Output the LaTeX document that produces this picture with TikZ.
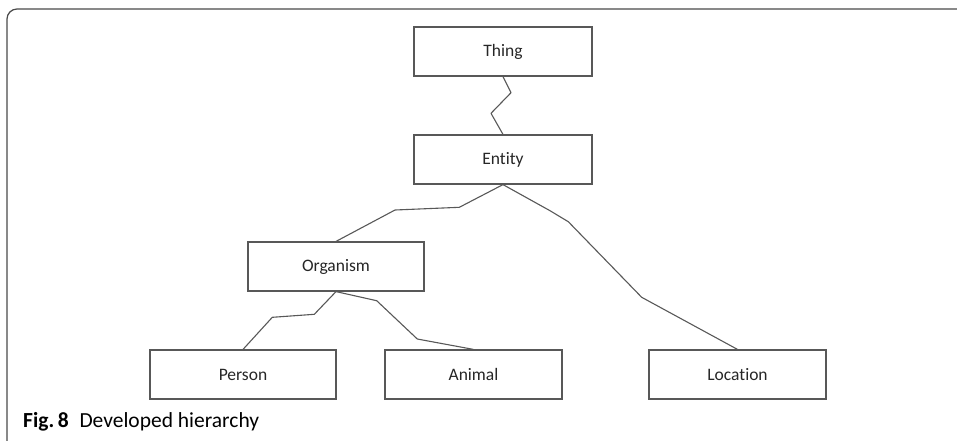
\documentclass[tikz,border=0pt]{standalone}
\usepackage{fontspec}
\setmainfont{Carlito}[Ligatures=NoCommon]
\definecolor{linegray}{HTML}{585858}
\definecolor{framegray}{HTML}{4A4A4A}
\begin{document}
\begin{tikzpicture}[x=1pt,y=-1pt,
  box/.style={draw=linegray,line width=1.2pt,minimum height=49pt,inner sep=0pt,
    font=\fontsize{17.5}{20}\selectfont,text=black!85},
  link/.style={draw=linegray,line width=1.1pt,line join=round}]
\useasboundingbox (0,0) rectangle (957,440);
% frame
\draw[framegray,line width=1.2pt,rounded corners=10pt] (7,441) -- (7,9) -- (958,9);
% nodes
\node[box,minimum width=178pt] (thing) at (503,51.5) {Thing};
\node[box,minimum width=178pt] (entity) at (503,159.5) {Entity};
\node[box,minimum width=176pt] (organism) at (336,266.5) {Organism};
\node[box,minimum width=186pt] (person) at (243,374.5) {Person};
\node[box,minimum width=177pt] (animal) at (473.5,374.5) {Animal};
\node[box,minimum width=177pt] (location) at (737.5,374.5) {Location};
% connectors
\draw[link] (thing.south) -- (511,92.7) -- (491,113.3) -- (entity.north);
\draw[link] (entity.south) -- (459.3,207.3) -- (395,210) -- (organism.north);
\draw[link] (entity.south) -- (550,210.7) -- (568.3,221.7) -- (641.7,297.3) -- (location.north);
\draw[link] (organism.south) -- (314.3,314.3) -- (272.3,317.3) -- (person.north);
\draw[link] (organism.south) -- (376.7,300.7) -- (417.3,339) -- (animal.north);
% caption
\node[anchor=west,inner sep=0pt,font=\fontsize{21.5}{24}\selectfont] (caption) at (23,422)
  {\textbf{Fig.\,8}\enspace Developed hierarchy};
\end{tikzpicture}
\end{document}
